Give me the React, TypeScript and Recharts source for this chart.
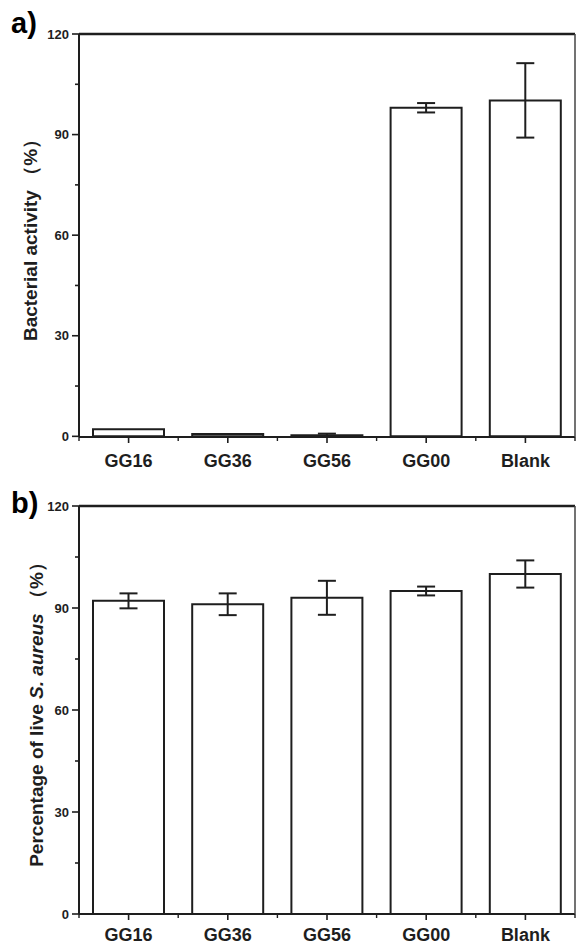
import React from "react";
import { Bar, BarChart, ErrorBar, ReferenceLine, XAxis, YAxis } from "recharts";

const CATEGORIES = ["GG16", "GG36", "GG56", "GG00", "Blank"];
const ACTIVITY = [2.1, 0.7, 0.3, 98, 100.2];
const ACTIVITY_ERR = [0, 0, 0.5, 1.4, 11.1];
const LIVE = [92.1, 91.1, 93, 95, 100];
const LIVE_ERR = [2.2, 3.2, 5, 1.3, 4];
const Y_TICKS = [0, 15, 30, 45, 60, 75, 90, 105, 120];
const Y_MAX = 120;

const INK = "#1e1e1e";
const FONT = "'Liberation Sans', Arial, sans-serif";
const WIDTH = 576;
const AXIS_W = 79;
const PLOT_W = WIDTH - AXIS_W - 1;
const BAND = PLOT_W / CATEGORIES.length;

function YTick(props: any) {
  const { x, y, payload } = props;
  const major = payload.value % 30 === 0;
  return (
    <g>
      <line x1={x - (major ? 7 : 4)} x2={x} y1={y} y2={y} stroke={INK} strokeWidth={1.6} />
      {major && (
        <text
          x={x - 10}
          y={y}
          dy="0.36em"
          textAnchor="end"
          fontSize={13}
          fontWeight="bold"
          fontFamily={FONT}
          fill={INK}
        >
          {payload.value}
        </text>
      )}
    </g>
  );
}

function XTick(props: any) {
  const { x, y, payload, labelDy } = props;
  const half = BAND / 2;
  const first = payload.value === CATEGORIES[0];
  return (
    <g>
      <line x1={x} x2={x} y1={y} y2={y + 6} stroke={INK} strokeWidth={1.6} />
      <line x1={x + half} x2={x + half} y1={y} y2={y + 4} stroke={INK} strokeWidth={1.4} />
      {first && <line x1={x - half} x2={x - half} y1={y} y2={y + 4} stroke={INK} strokeWidth={1.4} />}
      <text
        x={x}
        y={y + labelDy}
        textAnchor="middle"
        fontSize={18}
        fontWeight="bold"
        fontFamily={FONT}
        fill={INK}
      >
        {payload.value}
      </text>
    </g>
  );
}

type PanelProps = {
  values: number[];
  errors: number[];
  top: number;
  height: number;
  marginTop: number;
  xAxisHeight: number;
  labelDy: number;
  letter: string;
  letterY: number;
  titleX: number;
  title: React.ReactNode;
};

function Panel({ values, errors, top, height, marginTop, xAxisHeight, labelDy, letter, letterY, titleX, title }: PanelProps) {
  const rows = CATEGORIES.map((name, i) => ({ name, value: values[i], err: errors[i] }));
  const plotH = height - marginTop - xAxisHeight;
  const cy = marginTop + plotH / 2;
  return (
    <div style={{ position: "absolute", left: 0, top, width: WIDTH, height }}>
      <BarChart
        width={WIDTH}
        height={height}
        data={rows}
        margin={{ top: marginTop, right: 0, bottom: 0, left: 0 }}
      >
        <XAxis
          dataKey="name"
          height={xAxisHeight}
          interval={0}
          tickLine={false}
          tickSize={0}
          tickMargin={0}
          axisLine={{ stroke: INK, strokeWidth: 2 }}
          tick={(p: any) => <XTick {...p} labelDy={labelDy} />}
        />
        <YAxis
          width={AXIS_W}
          domain={[0, Y_MAX]}
          ticks={Y_TICKS}
          interval={0}
          tickLine={false}
          tickSize={0}
          tickMargin={0}
          axisLine={{ stroke: INK, strokeWidth: 2 }}
          tick={(p: any) => <YTick {...p} />}
          label={() => (
            <text
              x={titleX}
              y={cy}
              dy="0.36em"
              textAnchor="middle"
              transform={`rotate(-90 ${titleX} ${cy})`}
              fontSize={19}
              fontWeight="bold"
              fontFamily={FONT}
              fill={INK}
            >
              {title}
            </text>
          )}
        />
        <YAxis
          yAxisId="frame"
          orientation="right"
          width={1}
          domain={[0, Y_MAX]}
          tick={false}
          tickLine={false}
          axisLine={{ stroke: "#444", strokeWidth: 1.5 }}
        />
        <ReferenceLine y={Y_MAX} stroke={INK} strokeWidth={2.4} />
        <Bar dataKey="value" fill="#fff" stroke={INK} strokeWidth={2} barSize={71} isAnimationActive={false}>
          <ErrorBar dataKey="err" width={9} stroke={INK} strokeWidth={2} direction="y" isAnimationActive={false} />
        </Bar>
      </BarChart>
      <svg
        width={60}
        height={50}
        style={{ position: "absolute", left: 0, top: 0, pointerEvents: "none" }}
      >
        <text x={11} y={letterY} fontSize={29} fontWeight="bold" fontFamily={FONT} fill="#000">
          {letter}
        </text>
      </svg>
    </div>
  );
}

export default function App() {
  return (
    <div style={{ position: "absolute", left: 0, top: 0, width: WIDTH, height: 945, background: "#fff" }}>
      <Panel
        values={ACTIVITY}
        errors={ACTIVITY_ERR}
        top={0}
        height={475}
        marginTop={34}
        xAxisHeight={38}
        labelDy={30}
        letter="a)"
        letterY={33}
        titleX={30}
        title="Bacterial activity （%）"
      />
      <Panel
        values={LIVE}
        errors={LIVE_ERR}
        top={475}
        height={470}
        marginTop={31}
        xAxisHeight={31}
        labelDy={27}
        letter="b)"
        letterY={38}
        titleX={36}
        title={
          <>
            Percentage of live <tspan fontStyle="italic">S. aureus</tspan> （%）
          </>
        }
      />
    </div>
  );
}
